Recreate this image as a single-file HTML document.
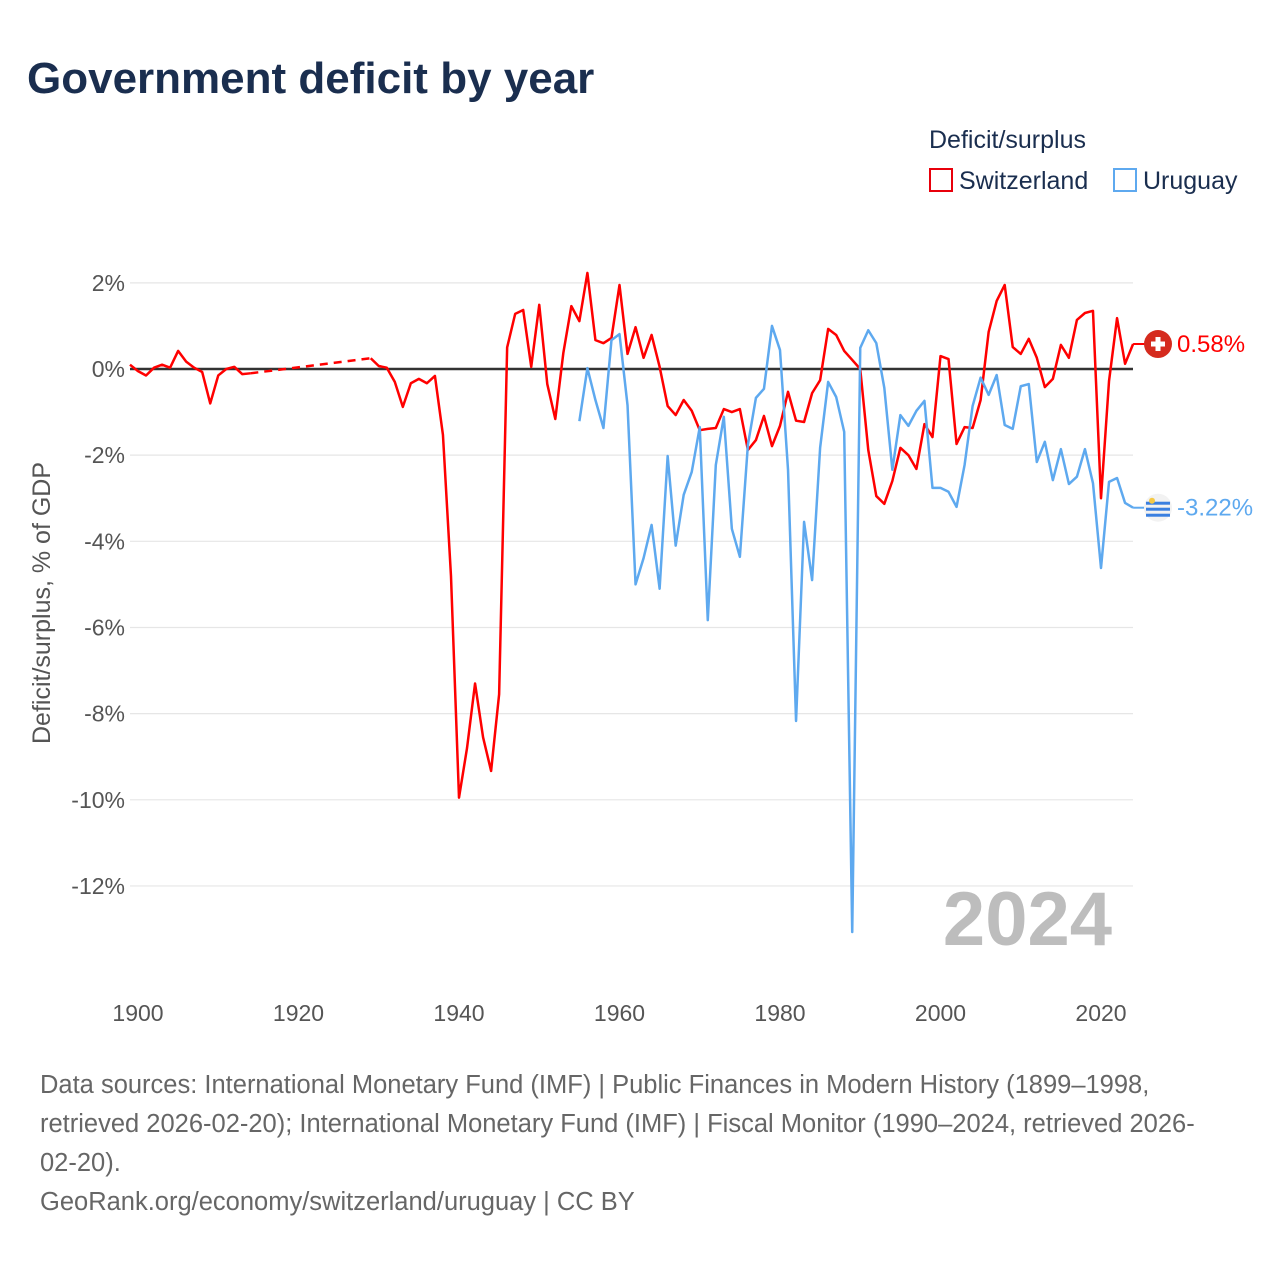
<!DOCTYPE html>
<html><head><meta charset="utf-8"><style>
body{margin:0;background:#fff;font-family:"Liberation Sans",sans-serif;}
svg text{font-family:"Liberation Sans",sans-serif;}
</style></head><body>
<svg id="chart" width="1280" height="1280" xmlns="http://www.w3.org/2000/svg">
<text x="27" y="93" font-size="44" font-weight="bold" fill="#1a2e4f">Government deficit by year</text>
<text x="929" y="148" font-size="25" fill="#1a2e4f">Deficit/surplus</text>
<g><rect x="930" y="169" width="22" height="22" fill="none" stroke="#e8000b" stroke-width="2"/><text x="959" y="189" font-size="25" fill="#1a2e4f">Switzerland</text></g>
<g><rect x="1114" y="169" width="22" height="22" fill="none" stroke="#5ea9ef" stroke-width="2"/><text x="1143" y="189" font-size="25" fill="#1a2e4f">Uruguay</text></g>
<g id="grid"></g>
<g id="xticks"></g>
<text transform="translate(50,603) rotate(-90)" text-anchor="middle" font-size="25" fill="#555">Deficit/surplus, % of GDP</text>
<text x="1112" y="945" text-anchor="end" font-size="76" font-weight="bold" fill="#bdbdbd">2024</text>
<g id="series"></g>
<text font-size="25.5" fill="#666"><tspan x="40" y="1093">Data sources: International Monetary Fund (IMF) | Public Finances in Modern History (1899–1998,</tspan><tspan x="40" y="1132">retrieved 2026-02-20); International Monetary Fund (IMF) | Fiscal Monitor (1990–2024, retrieved 2026-</tspan><tspan x="40" y="1171">02-20).</tspan><tspan x="40" y="1210">GeoRank.org/economy/switzerland/uruguay | CC BY</tspan></text>
</svg>
<script>
const yTicks=[2,0,-2,-4,-6,-8,-10,-12];
const xTicks=[1900,1920,1940,1960,1980,2000,2020];
const chYears=[1899,1900,1901,1902,1903,1904,1905,1906,1907,1908,1909,1910,1911,1912,1913,1914,1929,1930,1931,1932,1933,1934,1935,1936,1937,1938,1939,1940,1941,1942,1943,1944,1945,1946,1947,1948,1949,1950,1951,1952,1953,1954,1955,1956,1957,1958,1959,1960,1961,1962,1963,1964,1965,1966,1967,1968,1969,1970,1971,1972,1973,1974,1975,1976,1977,1978,1979,1980,1981,1982,1983,1984,1985,1986,1987,1988,1989,1990,1991,1992,1993,1994,1995,1996,1997,1998,1999,2000,2001,2002,2003,2004,2005,2006,2007,2008,2009,2010,2011,2012,2013,2014,2015,2016,2017,2018,2019,2020,2021,2022,2023,2024];
const chValues=[0.1,-0.05,-0.15,0.03,0.1,0.03,0.42,0.17,0.03,-0.07,-0.8,-0.15,0,0.05,-0.12,-0.1,0.25,0.07,0.03,-0.3,-0.88,-0.33,-0.23,-0.33,-0.16,-1.53,-4.8,-9.95,-8.8,-7.3,-8.55,-9.33,-7.55,0.5,1.28,1.37,0.05,1.49,-0.35,-1.16,0.37,1.46,1.11,2.23,0.67,0.6,0.72,1.95,0.35,0.97,0.26,0.79,0.05,-0.86,-1.07,-0.72,-0.97,-1.42,-1.39,-1.37,-0.93,-1.0,-0.93,-1.88,-1.65,-1.09,-1.79,-1.32,-0.53,-1.2,-1.23,-0.56,-0.26,0.93,0.79,0.42,0.21,0,-1.88,-2.95,-3.13,-2.6,-1.83,-2.0,-2.32,-1.28,-1.58,0.3,0.23,-1.74,-1.35,-1.37,-0.72,0.86,1.58,1.95,0.51,0.35,0.7,0.26,-0.42,-0.23,0.56,0.26,1.14,1.3,1.35,-3.0,-0.28,1.18,0.12,0.58];
const uyYears=[1955,1956,1957,1958,1959,1960,1961,1962,1963,1964,1965,1966,1967,1968,1969,1970,1971,1972,1973,1974,1975,1976,1977,1978,1979,1980,1981,1982,1983,1984,1985,1986,1987,1988,1989,1990,1991,1992,1993,1994,1995,1996,1997,1998,1999,2000,2001,2002,2003,2004,2005,2006,2007,2008,2009,2010,2011,2012,2013,2014,2015,2016,2017,2018,2019,2020,2021,2022,2023,2024];
const uyValues=[-1.21,0.02,-0.72,-1.37,0.67,0.81,-0.84,-5.0,-4.39,-3.62,-5.1,-2.02,-4.1,-2.92,-2.39,-1.35,-5.83,-2.23,-1.11,-3.71,-4.36,-1.76,-0.67,-0.46,1.0,0.44,-2.34,-8.17,-3.55,-4.9,-1.83,-0.3,-0.65,-1.46,-13.07,0.49,0.9,0.6,-0.44,-2.34,-1.07,-1.32,-0.97,-0.74,-2.76,-2.76,-2.85,-3.2,-2.23,-0.86,-0.2,-0.6,-0.14,-1.3,-1.39,-0.4,-0.35,-2.16,-1.69,-2.58,-1.86,-2.67,-2.5,-1.86,-2.65,-4.62,-2.62,-2.53,-3.11,-3.22];
const NS='http://www.w3.org/2000/svg';
const xS=y=>138+(y-1900)*8.025;
const yS=v=>369-v*43.08;
function mk(tag,attrs,parent){const e=document.createElementNS(NS,tag);for(const k in attrs)e.setAttribute(k,attrs[k]);parent.appendChild(e);return e;}
const grid=document.getElementById('grid');
yTicks.forEach(t=>{
  const l=mk('line',{x1:130,x2:1133,y1:yS(t),y2:yS(t),stroke:t===0?'#333':'#e6e6e6','stroke-width':t===0?2.5:1.2},grid);
  
  
  const tx=mk('text',{x:125,y:yS(t)+8,'text-anchor':'end','font-size':23,fill:'#555'},grid);
  tx.textContent=t+'%';
  
  
});
const xt=document.getElementById('xticks');
xTicks.forEach(t=>{
  const tx=mk('text',{x:xS(t),y:1021,'text-anchor':'middle','font-size':23,fill:'#555'},xt);
  tx.textContent=t;
  
  
});
const ser=document.getElementById('series');
function draw(years,vals,color,name){
  let d='';
  for(let i=0;i<years.length;i++){
    if(i>0&&years[i]-years[i-1]>1){
      const g=mk('line',{x1:xS(years[i-1]),y1:yS(vals[i-1]),x2:xS(years[i]),y2:yS(vals[i]),stroke:color,'stroke-width':2.5,'stroke-dasharray':'8 6'},ser);
      
      
      d+='M'+xS(years[i])+','+yS(vals[i]);
    } else d+=(i===0?'M':'L')+xS(years[i])+','+yS(vals[i]);
  }
  const p=mk('path',{d:d,fill:'none',stroke:color,'stroke-width':2.5,'stroke-linejoin':'round'},ser);
  
  
  return [xS(years[years.length-1]),yS(vals[vals.length-1]),vals[vals.length-1]];
}
const ch=draw(chYears,chValues,'#ff0000','switzerland');
const uy=draw(uyYears,uyValues,'#5ea9ef','uruguay');
let g=mk('g',{},ser);


mk('line',{x1:ch[0],y1:ch[1],x2:1145,y2:ch[1],stroke:'#ff0000','stroke-width':2},g);
mk('circle',{cx:1158,cy:ch[1],r:14,fill:'#d52b1e'},g);
mk('rect',{x:1151,y:ch[1]-2.5,width:14,height:5,fill:'#fff'},g);
mk('rect',{x:1155.5,y:ch[1]-7,width:5,height:14,fill:'#fff'},g);
let t=mk('text',{x:1177,y:ch[1]+8,'font-size':24,fill:'#ff0000'},g);t.textContent=ch[2].toFixed(2)+'%';
g=mk('g',{},ser);


mk('line',{x1:uy[0],y1:uy[1],x2:1145,y2:uy[1],stroke:'#5ea9ef','stroke-width':2},g);
mk('circle',{cx:1158,cy:uy[1],r:14,fill:'#f2f2f2'},g);
for(let k=0;k<3;k++)mk('rect',{x:1146,y:uy[1]-6+k*6,width:24,height:3,fill:'#3a7fe0'},g);
mk('circle',{cx:1152,cy:uy[1]-7,r:3,fill:'#f6c945'},g);
t=mk('text',{x:1177,y:uy[1]+8,'font-size':24,fill:'#5ea9ef'},g);t.textContent=uy[2].toFixed(2)+'%';
</script>
</body></html>
